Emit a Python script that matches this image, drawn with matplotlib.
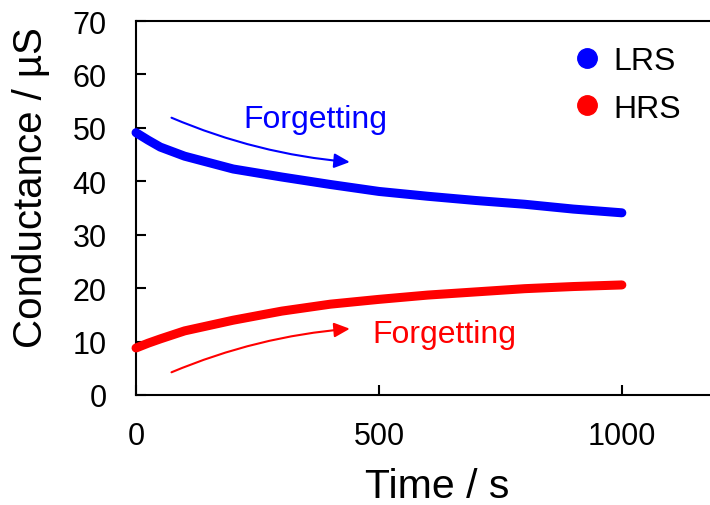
import matplotlib
matplotlib.use('agg')
import matplotlib.pyplot as plt
from matplotlib.lines import Line2D

plt.rcParams['font.family'] = ['Liberation Sans', 'DejaVu Sans']

# valeurs
time_s = [0, 25, 50, 100, 200, 300, 400, 500, 600, 700, 800, 900, 1000]
lrs = [49.1, 47.7, 46.4, 44.7, 42.3, 40.8, 39.4, 38.1, 37.2, 36.4, 35.7, 34.8, 34.1]
hrs = [8.8, 9.7, 10.5, 12.0, 14.0, 15.7, 17.0, 17.9, 18.7, 19.3, 19.9, 20.3, 20.6]
series_names = ['LRS', 'HRS']
series_colors = ['#0000ff', '#ff0000']
x_ticks = [0, 500, 1000]
y_ticks = [0, 10, 20, 30, 40, 50, 60, 70]
note_text = 'Forgetting'

fig = plt.figure(figsize=(7.1, 5.06), dpi=100)
# l'axe depasse a droite, comme sur l'image d'origine (coupee)
ax = fig.add_axes([0.1916, 0.2174, 0.8211, 0.7391])

for vals, c in zip([lrs, hrs], series_colors):
    ax.plot(time_s, vals, color=c, lw=6.5, solid_capstyle='round',
            solid_joinstyle='round', clip_on=False, zorder=3)

ax.set_xlim(0, 1200)
ax.set_ylim(0, 70)
ax.set_xticks(x_ticks)
ax.set_yticks(y_ticks)
ax.tick_params(axis='both', direction='in', length=7, width=1.5, labelsize=22)
ax.tick_params(axis='x', pad=19)
ax.tick_params(axis='y', pad=21)
for s in ax.spines.values():
    s.set_linewidth(1.5)

ax.set_xlabel('Time / s', fontsize=29.5)
ax.set_ylabel('Conductance / µS', fontsize=29)
ax.xaxis.set_label_coords(0.516, -0.192)
ax.yaxis.set_label_coords(-0.147, 0.556)

# fleches "Forgetting"
ax.annotate('', xy=(440, 43.6), xytext=(73, 51.9),
            arrowprops=dict(arrowstyle='-|>,head_length=0.47,head_width=0.22',
                            connectionstyle='arc3,rad=0.08', color=series_colors[0],
                            lw=1.5, mutation_scale=20, shrinkA=0, shrinkB=0))
ax.annotate('', xy=(440, 12.4), xytext=(73, 4.25),
            arrowprops=dict(arrowstyle='-|>,head_length=0.47,head_width=0.22',
                            connectionstyle='arc3,rad=-0.08', color=series_colors[1],
                            lw=1.5, mutation_scale=20, shrinkA=0, shrinkB=0))
ax.text(220, 50.2, note_text, color=series_colors[0], fontsize=23, ha='left', va='baseline')
ax.text(487, 9.9, note_text, color=series_colors[1], fontsize=23, ha='left', va='baseline')

handles = [Line2D([], [], ls='none', marker='o', ms=14, color=c) for c in series_colors]
ax.legend(handles, series_names, loc='upper left', bbox_to_anchor=(574 / 710, 1 - 47 / 506),
          bbox_transform=fig.transFigure, frameon=False, fontsize=23, borderpad=0,
          borderaxespad=0, handlelength=0.8, handletextpad=0.42, labelspacing=0.55)

fig.savefig('out.png', dpi=100)
